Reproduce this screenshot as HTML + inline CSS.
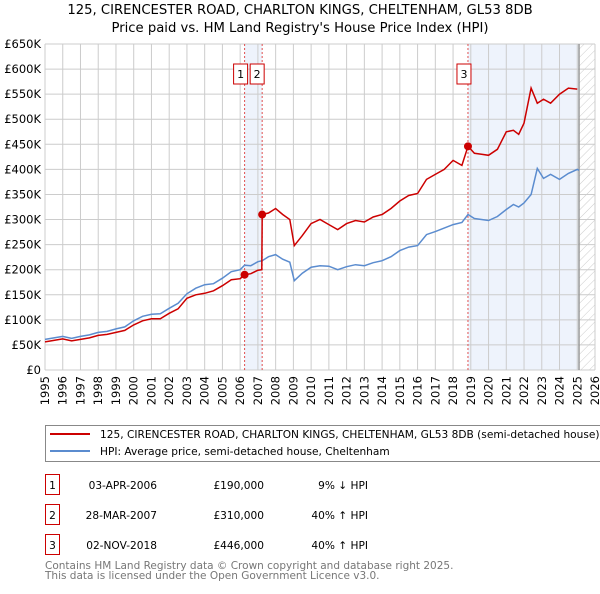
<!DOCTYPE html>
<html><head><meta charset="utf-8"><style>
body{margin:0;width:600px;height:590px;background:#fff;font-family:"DejaVu Sans","Liberation Sans",sans-serif;overflow:hidden}
svg text{font-family:"DejaVu Sans","Liberation Sans",sans-serif}
</style></head><body>
<svg width="600" height="590">
<defs><pattern id="hatch" width="6" height="6" patternUnits="userSpaceOnUse" patternTransform="rotate(45)"><line x1="0" y1="0" x2="0" y2="6" stroke="#ccc" stroke-width="1"/></pattern></defs>
<text x="300" y="14" text-anchor="middle" font-size="13.2">125, CIRENCESTER ROAD, CHARLTON KINGS, CHELTENHAM, GL53 8DB</text>
<text x="300" y="32" text-anchor="middle" font-size="13.2">Price paid vs. HM Land Registry's House Price Index (HPI)</text>
<g id="plot"></g>
<g id="legend">
<rect x="45.5" y="425.5" width="560" height="36" fill="#fff" stroke="#888"/>
<line x1="50" y1="434" x2="90" y2="434" stroke="#cc0000" stroke-width="2"/>
<text x="100" y="438" font-size="10.6">125, CIRENCESTER ROAD, CHARLTON KINGS, CHELTENHAM, GL53 8DB (semi-detached house)</text>
<line x1="50" y1="451" x2="90" y2="451" stroke="#5b8ccf" stroke-width="2"/>
<text x="100" y="455" font-size="10.6">HPI: Average price, semi-detached house, Cheltenham</text>
</g>
<g id="table" font-size="10.6"></g>
<text x="45" y="569" font-size="10.5" fill="#777">Contains HM Land Registry data © Crown copyright and database right 2025.</text>
<text x="45" y="579" font-size="10.5" fill="#777">This data is licensed under the Open Government Licence v3.0.</text>
</svg>
<script>
const hpiYears=[1995,1995.5,1996,1996.5,1997,1997.5,1998,1998.5,1999,1999.5,2000,2000.5,2001,2001.5,2002,2002.5,2003,2003.5,2004,2004.5,2005,2005.5,2006,2006.25,2006.6,2007,2007.24,2007.6,2008,2008.4,2008.8,2009.05,2009.5,2010,2010.5,2011,2011.5,2012,2012.5,2013,2013.5,2014,2014.5,2015,2015.5,2016,2016.5,2017,2017.5,2018,2018.5,2018.84,2019.2,2019.6,2020,2020.5,2021,2021.4,2021.7,2022,2022.4,2022.75,2023.1,2023.5,2024,2024.5,2025,2025.1];
const hpiValues=[61,64,67,63,67,70,75,77,82,86,98,107,111,112,123,133,152,163,170,172,183,196,200,209,208,216,218,226,230,221,215,178,193,205,208,207,200,206,210,208,214,218,226,238,245,248,270,276,283,290,294,310,302,300,298,306,320,330,325,333,350,402,382,390,380,392,400,398];
const redYears=[1995,1995.5,1996,1996.5,1997,1997.5,1998,1998.5,1999,1999.5,2000,2000.5,2001,2001.5,2002,2002.5,2003,2003.5,2004,2004.5,2005,2005.5,2006,2006.25,2006.6,2007,2007.22,2007.24,2007.6,2008,2008.4,2008.8,2009.05,2009.5,2010,2010.5,2011,2011.5,2012,2012.5,2013,2013.5,2014,2014.5,2015,2015.5,2016,2016.5,2017,2017.5,2018,2018.5,2018.84,2019.2,2019.6,2020,2020.5,2021,2021.4,2021.7,2022,2022.4,2022.75,2023.1,2023.5,2024,2024.5,2025,2025.1];
const redValues=[56,59,62,58,61,64,69,71,75,79,90,98,102,102,113,122,143,150,153,158,168,180,182,190,192,199,200,310,313,322,310,300,248,268,292,300,290,280,292,298,295,305,310,322,337,348,352,380,390,400,418,408,446,432,430,428,440,475,478,470,492,562,532,540,532,550,562,560];
const salesYears=[2006.25,2007.24,2018.84];
const salesValues=[190,310,446];
const saleLabels=["1","2","3"];
const saleDates=["03-APR-2006","28-MAR-2007","02-NOV-2018"];
const salePrices=["£190,000","£310,000","£446,000"];
const saleDiffs=["9% \u2193 HPI","40% \u2191 HPI","40% \u2191 HPI"];
const yTicks=[0,50,100,150,200,250,300,350,400,450,500,550,600,650];
const xTicks=[1995,1996,1997,1998,1999,2000,2001,2002,2003,2004,2005,2006,2007,2008,2009,2010,2011,2012,2013,2014,2015,2016,2017,2018,2019,2020,2021,2022,2023,2024,2025,2026];

const NS="http://www.w3.org/2000/svg";
const L=45,R=595,T=44,B=370;
const X=y=>L+(y-1995)/31*(R-L);
const Y=v=>B-v/650*(B-T);
const plot=document.getElementById('plot');
function mk(tag,at,parent){const e=document.createElementNS(NS,tag);for(const k in at)e.setAttribute(k,at[k]);(parent||plot).appendChild(e);return e;}
let e;
e=mk('rect',{x:X(2006.25),y:T,width:X(2007.24)-X(2006.25),height:B-T,fill:'#eef3fc'});


e=mk('rect',{x:X(2018.84),y:T,width:X(2025.1)-X(2018.84),height:B-T,fill:'#eef3fc'});


e=mk('rect',{x:X(2025.1),y:T,width:R-X(2025.1),height:B-T,fill:'url(#hatch)'});


yTicks.forEach(v=>{
 e=mk('line',{x1:L,x2:R,y1:Y(v),y2:Y(v),stroke:'#ccc'});
 
 
 e=mk('text',{x:L-4,y:Y(v)+4,'text-anchor':'end','font-size':'11.5'});e.textContent=v===0?'£0':'£'+v+'K';
 
 
});
xTicks.forEach(y=>{
 e=mk('line',{x1:X(y),x2:X(y),y1:T,y2:B,stroke:'#ccc'});
 
 
 e=mk('text',{x:0,y:0,'font-size':'11.5','text-anchor':'end',transform:`translate(${(X(y)+4).toFixed(1)},${B+6}) rotate(-90)`});e.textContent=y;
 
 
});
e=mk('line',{x1:X(2025.1),x2:X(2025.1),y1:T,y2:B,stroke:'#999','stroke-width':1.5});


salesYears.forEach((y,i)=>{
 e=mk('line',{x1:X(y),x2:X(y),y1:T,y2:B,stroke:'#e05050','stroke-dasharray':'2,2'});
 
 
});
const pts=(xs,vs)=>xs.map((x,i)=>X(x).toFixed(1)+','+Y(vs[i]).toFixed(1)).join(' ');
e=mk('polyline',{points:pts(hpiYears,hpiValues),fill:'none',stroke:'#5b8ccf','stroke-width':1.5});


e=mk('polyline',{points:pts(redYears,redValues),fill:'none',stroke:'#cc0000','stroke-width':1.5});


const boxOff=[-4,-5,-4];
salesYears.forEach((y,i)=>{
 const bx=X(y)+boxOff[i];
 e=mk('circle',{cx:X(y),cy:Y(salesValues[i]),r:4,fill:'#cc0000'});
 
 
 e=mk('rect',{x:bx-7,y:64,width:14,height:20,fill:'#fff',stroke:'#cc0000'});
 
 
 e=mk('text',{x:bx,y:78,'text-anchor':'middle','font-size':'11'});e.textContent=saleLabels[i];
 
 
});
const tbl=document.getElementById('table');
const rowY=[485,515,545];
saleLabels.forEach((s,i)=>{
 const g=mk('g',{},tbl);
 
 
 mk('rect',{x:45.5,y:rowY[i]-10.5,width:14,height:20,fill:'#fff',stroke:'#cc0000'},g);
 let t=mk('text',{x:52.5,y:rowY[i]+4,'text-anchor':'middle'},g);t.textContent=s;
 t=mk('text',{x:157,y:rowY[i]+4,'text-anchor':'end'},g);t.textContent=saleDates[i];
 t=mk('text',{x:264,y:rowY[i]+4,'text-anchor':'end'},g);t.textContent=salePrices[i];
 t=mk('text',{x:368,y:rowY[i]+4,'text-anchor':'end'},g);t.textContent=saleDiffs[i];
});
</script>
</body></html>
